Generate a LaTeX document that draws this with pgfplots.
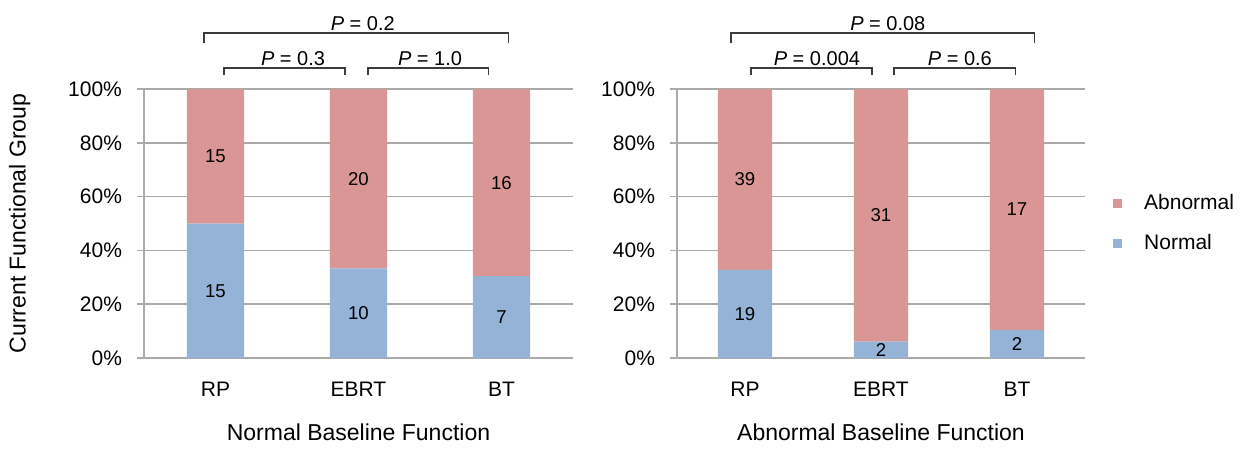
\documentclass[border=0pt]{standalone}
\usepackage{pgfplots}
\pgfplotsset{compat=1.18}
\usepackage{pgfplotstable}
\usepackage{fontspec}
\setmainfont{Liberation Sans}
\definecolor{abn}{RGB}{217,150,148}
\definecolor{nor}{RGB}{149,179,215}
\definecolor{axgray}{RGB}{170,170,170}
\definecolor{brk}{RGB}{60,60,60}

\pgfplotstableread{
x pct n
0 50.0 15
1 33.3 10
2 30.4 7
}\leftnormal
\pgfplotstableread{
x pct n
0 50.0 15
1 66.7 20
2 69.6 16
}\leftabn
\pgfplotstableread{
x pct n
0 32.8 19
1 6.1 2
2 10.5 2
}\rightnormal
\pgfplotstableread{
x pct n
0 67.2 39
1 93.9 31
2 89.5 17
}\rightabn

\pgfplotsset{
  mybar/.style={
    scale only axis, height=134.5pt,
    ybar stacked, bar width=0.4,
    ymin=0, ymax=100, xmin=-0.5, xmax=2.5,
    clip=false,
    ytick={0,20,...,100},
    yticklabel={\pgfmathprintnumber{\tick}\%},
    /pgf/number format/assume math mode=true,
    xtick={0,1,2}, xticklabels={RP,EBRT,BT},
    xtick style={draw=none},
    extra x ticks={0.5,1.5,2.5},
    extra x tick labels={},
    extra x tick style={grid=none, tick style={draw=axgray, line width=0.75pt}, major tick length=3.5pt},
    ytick style={draw=axgray, line width=0.75pt},
    axis x line*=bottom, axis y line*=left,
    axis line style={axgray, line width=0.75pt, -},
    ymajorgrids, grid style={axgray, line width=0.75pt},
    tick align=outside, major tick length=3.5pt,
    tick label style={font=\fontsize{10.5}{12}\selectfont, text=black},
    yticklabel style={xshift=-4pt},
    xticklabel style={yshift=-5pt},
    label style={font=\fontsize{11.5}{13}\selectfont},
    xlabel style={yshift=0pt},
  },
  segs/.style={
    point meta=explicit symbolic,
    nodes near coords,
    every node near coord/.append style={anchor=center, font=\fontsize{9.3}{11}\selectfont, text=black},
  },
  mynor/.style={segs, fill=nor, draw=none, legend image code/.code={\fill[nor] (0pt,-2.2pt) rectangle (4.4pt,2.2pt);}},
  myabn/.style={segs, fill=abn, draw=none, legend image code/.code={\fill[abn] (0pt,-2.2pt) rectangle (4.4pt,2.2pt);}},
}

\begin{document}
\begin{tikzpicture}
\useasboundingbox (-72pt,-46pt) rectangle (553pt,179pt);
\begin{axis}[mybar, width=214.5pt, ylabel={Current Functional Group}, xlabel={Normal Baseline Function},
  ylabel style={yshift=12pt}]
\addplot[mynor] table[x=x, y=pct, meta=n] {\leftnormal};
\addplot[myabn] table[x=x, y=pct, meta=n] {\leftabn};
\draw[brk, line width=0.6pt] (axis cs:-0.08,117.1) -- (axis cs:-0.08,120.8) -- (axis cs:2.05,120.8) -- (axis cs:2.05,117.1);
\node[anchor=south, inner sep=1pt, font=\fontsize{10}{12}\selectfont] at (axis cs:1.03,120.8) {\textit{P} = 0.2};
\draw[brk, line width=0.6pt] (axis cs:0.06,105.2) -- (axis cs:0.06,107.8) -- (axis cs:0.906,107.8) -- (axis cs:0.906,105.2);
\node[anchor=south, inner sep=1pt, font=\fontsize{10}{12}\selectfont] at (axis cs:0.542,107.8) {\textit{P} = 0.3};
\draw[brk, line width=0.6pt] (axis cs:1.066,105.2) -- (axis cs:1.066,107.8) -- (axis cs:1.91,107.8) -- (axis cs:1.91,105.2);
\node[anchor=south, inner sep=1pt, font=\fontsize{10}{12}\selectfont] at (axis cs:1.5,107.8) {\textit{P} = 1.0};
\end{axis}
\begin{axis}[mybar, at={(266.5pt,0pt)}, width=204pt, xlabel={Abnormal Baseline Function},
  reverse legend,
  legend style={at={(1,0.5)}, anchor=west, xshift=14pt, draw=none, fill=none,
    font=\fontsize{10.5}{12}\selectfont, row sep=7pt, inner sep=0pt,
    /tikz/every odd column/.append style={column sep=9pt}},
  legend cell align=left]
\addplot[mynor] table[x=x, y=pct, meta=n] {\rightnormal};
\addplot[myabn] table[x=x, y=pct, meta=n] {\rightabn};
\legend{Normal, Abnormal}
\draw[brk, line width=0.6pt] (axis cs:-0.103,117.1) -- (axis cs:-0.103,120.8) -- (axis cs:2.13,120.8) -- (axis cs:2.13,117.1);
\node[anchor=south, inner sep=1pt, font=\fontsize{10}{12}\selectfont] at (axis cs:1.05,120.8) {\textit{P} = 0.08};
\draw[brk, line width=0.6pt] (axis cs:0.044,105.2) -- (axis cs:0.044,107.8) -- (axis cs:0.934,107.8) -- (axis cs:0.934,105.2);
\node[anchor=south, inner sep=1pt, font=\fontsize{10}{12}\selectfont] at (axis cs:0.529,107.8) {\textit{P} = 0.004};
\draw[brk, line width=0.6pt] (axis cs:1.096,105.2) -- (axis cs:1.096,107.8) -- (axis cs:1.99,107.8) -- (axis cs:1.99,105.2);
\node[anchor=south, inner sep=1pt, font=\fontsize{10}{12}\selectfont] at (axis cs:1.58,107.8) {\textit{P} = 0.6};
\end{axis}
\end{tikzpicture}
\end{document}
